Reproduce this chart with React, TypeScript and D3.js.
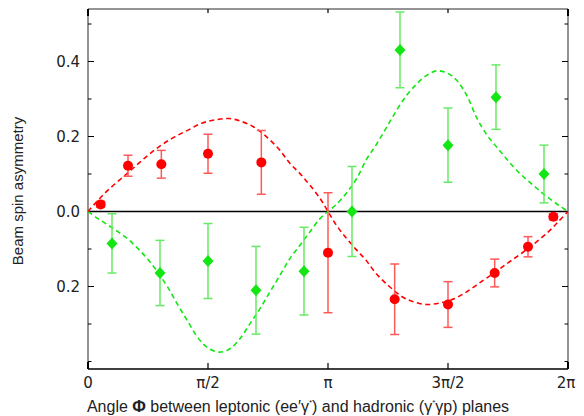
import React from "react";
import * as d3 from "d3";

// angles in degrees (0..360 ↔ 0..2π)
const redPhi = [9.5, 30, 55, 90, 130, 180, 230, 270, 305, 330, 349];
const redVal = [0.019, 0.122, 0.126, 0.154, 0.131, -0.11, -0.234, -0.248, -0.164, -0.094, -0.014];
const redErr = [0.008, 0.028, 0.037, 0.052, 0.085, 0.16, 0.094, 0.061, 0.037, 0.027, 0.008];

const greenPhi = [18, 54, 90, 126, 162, 198, 234, 270, 306, 342];
const greenVal = [-0.085, -0.164, -0.132, -0.21, -0.159, 0.0, 0.431, 0.177, 0.305, 0.1];
const greenErr = [0.079, 0.087, 0.1, 0.117, 0.117, 0.12, 0.101, 0.099, 0.086, 0.077];

const redCurvePhi = [0, 7.5, 15, 25, 35, 45, 55, 65, 75, 85, 95, 106, 116, 124, 134, 144, 151.5, 159, 166.5, 174, 180,
  186, 193.5, 201, 208.5, 216, 226, 236, 243.5, 254, 265, 275, 285, 295, 305, 315, 325, 335, 345, 352.5, 360];
const redCurveVal = [0, 0.03, 0.057, 0.088, 0.119, 0.15, 0.177, 0.199, 0.217, 0.235, 0.244, 0.248, 0.239, 0.226, 0.199, 0.163, 0.128, 0.101, 0.07, 0.035, 0,
  -0.035, -0.07, -0.101, -0.13, -0.165, -0.2, -0.228, -0.24, -0.248, -0.243, -0.232, -0.212, -0.187, -0.163, -0.137, -0.112, -0.085, -0.055, -0.028, 0];

const greenCurvePhi = [0, 7.5, 15, 22.5, 30, 37.5, 45, 52.5, 60, 67.5, 75, 82.5, 90, 99, 106.5, 114, 121.5, 129, 136.5, 144, 151.5, 159, 166.5, 174, 180,
  186, 194, 201.5, 209, 216.5, 224, 231.5, 239, 246.5, 254, 261.5, 269, 276.5, 284, 291.5, 299, 306.5, 314, 321.5, 329, 336.5, 344, 352.5, 360];
const greenCurveVal = [0, -0.019, -0.036, -0.054, -0.074, -0.099, -0.128, -0.163, -0.203, -0.25, -0.294, -0.337, -0.364, -0.375, -0.366, -0.339, -0.299, -0.259, -0.214, -0.17, -0.125, -0.09, -0.054, -0.019, 0,
  0.018, 0.05, 0.088, 0.14, 0.18, 0.225, 0.27, 0.31, 0.34, 0.363, 0.375, 0.37, 0.35, 0.31, 0.25, 0.205, 0.172, 0.14, 0.11, 0.085, 0.062, 0.04, 0.018, 0];

const xTickVals = [0, 90, 180, 270, 360];
const xTickLabels = ["0", "π/2", "π", "3π/2", "2π"];
const yTickVals = [0.4, 0.2, 0.0, -0.2];
const yTickLabels = ["0.4", "0.2", "0.0", "0.2"];
const yMinorVals = [-0.4, -0.3, -0.1, 0.1, 0.3, 0.5];

const W = 584, H = 416;
const L = 88, R = 568, T = 9, B = 369;

export default function App() {
  const x = d3.scaleLinear().domain([0, 360]).range([L, R]);
  const y = d3.scaleLinear().domain([-0.42, 0.54]).range([B, T]);

  const line = d3.line<[number, number]>()
    .x((d) => x(d[0]))
    .y((d) => y(d[1]))
    .curve(d3.curveCatmullRom.alpha(0.5));

  const redCurve = line(redCurvePhi.map((p, i) => [p, redCurveVal[i]] as [number, number])) || "";
  const greenCurve = line(greenCurvePhi.map((p, i) => [p, greenCurveVal[i]] as [number, number])) || "";

  const axisCol = "#707070";
  const font = "'Liberation Sans', Arial, sans-serif";
  const tickFont = "'DejaVu Sans', sans-serif";
  const cap = 4.5;

  const redC = "#ff0000";
  const redBar = "#ff5a5a";
  const greenC = "#14e614";
  const greenBar = "#66ea66";

  return (
    <svg width={W} height={H} style={{ position: "absolute", left: 0, top: 0, background: "#fff" }}
      fontFamily={font}>
      {/* zero line */}
      <line x1={L} x2={R} y1={y(0)} y2={y(0)} stroke="#000" strokeWidth={1.4} />

      {/* frame */}
      <line x1={L} x2={L} y1={T} y2={B} stroke={axisCol} strokeWidth={1.5} />
      <line x1={R} x2={R} y1={T} y2={B} stroke={axisCol} strokeWidth={1.5} />
      <line x1={L} x2={R} y1={T} y2={T} stroke={axisCol} strokeWidth={1.5} />
      <line x1={L} x2={R} y1={B} y2={B} stroke="#000" strokeWidth={1.5} />

      {/* y ticks left & right */}
      {yTickVals.map((v, i) => (
        <g key={"yt" + i}>
          <line x1={L} x2={L + 6} y1={y(v)} y2={y(v)} stroke="#000" strokeWidth={1} />
          <line x1={R} x2={R - 6} y1={y(v)} y2={y(v)} stroke="#000" strokeWidth={1} />
          <text x={80} y={y(v) + 5.5} textAnchor="end" fontSize={15} fontFamily={tickFont} fill="#222">{yTickLabels[i]}</text>
        </g>
      ))}
      {yMinorVals.map((v, i) => (
        <g key={"ym" + i}>
          <line x1={L} x2={L + 3.5} y1={y(v)} y2={y(v)} stroke="#000" strokeWidth={1} />
          <line x1={R} x2={R - 3.5} y1={y(v)} y2={y(v)} stroke="#000" strokeWidth={1} />
        </g>
      ))}

      {/* x ticks */}
      {xTickVals.map((v, i) => (
        <g key={"xt" + i}>
          {i > 0 && i < xTickVals.length - 1 && (
            <>
              <line x1={x(v)} x2={x(v)} y1={B} y2={B - 6} stroke="#000" strokeWidth={1.2} />
              <line x1={x(v)} x2={x(v)} y1={T} y2={T + 4} stroke="#000" strokeWidth={1.2} />
            </>
          )}
          <text x={x(v) - (i === xTickVals.length - 1 ? 2 : 0)} y={388} textAnchor="middle" fontSize={15} fontFamily={tickFont} fill="#222">{xTickLabels[i]}</text>
        </g>
      ))}
      {/* corner marks */}
      <line x1={L} x2={L} y1={T} y2={T + 7} stroke="#000" strokeWidth={2} />
      <line x1={L} x2={L} y1={B} y2={B - 7} stroke="#000" strokeWidth={2} />
      <line x1={R} x2={R} y1={T} y2={T + 7} stroke="#000" strokeWidth={2} />
      <line x1={R} x2={R} y1={B} y2={B - 7} stroke="#000" strokeWidth={2} />

      {/* curves */}
      <path d={greenCurve} fill="none" stroke={greenC} strokeWidth={1.6} strokeDasharray="5,3.5" />
      <path d={redCurve} fill="none" stroke={redC} strokeWidth={1.6} strokeDasharray="5,3.5" />

      {/* green error bars + diamonds */}
      {greenPhi.map((p, i) => {
        const cx = x(p), cy = y(greenVal[i]);
        const y1 = y(greenVal[i] + greenErr[i]), y2 = y(greenVal[i] - greenErr[i]);
        return (
          <g key={"g" + i}>
            <line x1={cx} x2={cx} y1={y1} y2={y2} stroke={greenBar} strokeWidth={1.5} />
            <line x1={cx - cap} x2={cx + cap} y1={y1} y2={y1} stroke={greenBar} strokeWidth={1.5} />
            <line x1={cx - cap} x2={cx + cap} y1={y2} y2={y2} stroke={greenBar} strokeWidth={1.5} />
            <path d={`M${cx},${cy - 6}L${cx + 5.5},${cy}L${cx},${cy + 6}L${cx - 5.5},${cy}Z`} fill={greenC} />
          </g>
        );
      })}

      {/* red error bars + circles */}
      {redPhi.map((p, i) => {
        const cx = x(p), cy = y(redVal[i]);
        const y1 = y(redVal[i] + redErr[i]), y2 = y(redVal[i] - redErr[i]);
        return (
          <g key={"r" + i}>
            <line x1={cx} x2={cx} y1={y1} y2={y2} stroke={redBar} strokeWidth={1.5} />
            <line x1={cx - cap} x2={cx + cap} y1={y1} y2={y1} stroke={redBar} strokeWidth={1.5} />
            <line x1={cx - cap} x2={cx + cap} y1={y2} y2={y2} stroke={redBar} strokeWidth={1.5} />
            <circle cx={cx} cy={cy} r={5} fill={redC} />
          </g>
        );
      })}

      {/* axis titles */}
      <text transform={`translate(23,${(T + B) / 2 + 2}) rotate(-90)`} textAnchor="middle" fontSize={15} fill="#222">
        Beam spin asymmetry
      </text>
      <text x={298} y={412} textAnchor="middle" fontSize={16} fill="#222">
        Angle <tspan fontSize={16.5} fontWeight="bold">Φ</tspan> between leptonic (ee′γ<tspan dy={-7} fontSize={8}>*</tspan><tspan dy={7}>) and hadronic (γ</tspan><tspan dy={-7} fontSize={8}>*</tspan><tspan dy={7}>γp) planes</tspan>
      </text>
    </svg>
  );
}
